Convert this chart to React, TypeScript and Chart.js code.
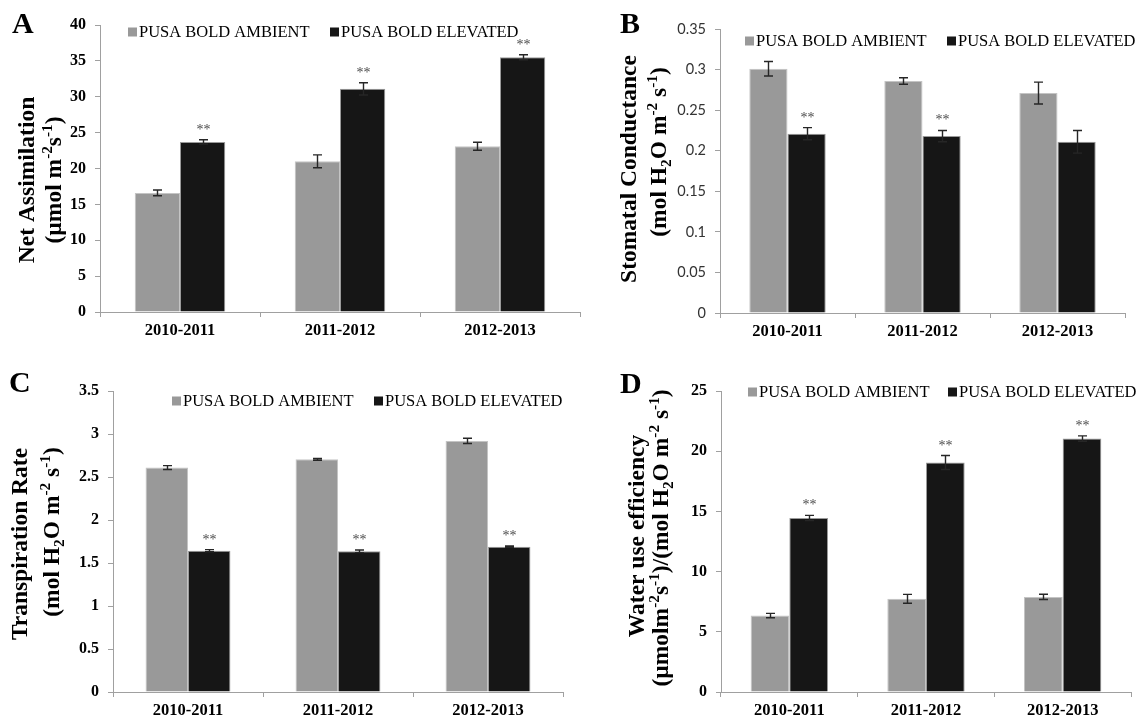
import React, { useEffect, useRef } from "react";
import { Chart, registerables } from "chart.js";

Chart.register(...registerables);

// ---------- data ----------
const categories = ["2010-2011", "2011-2012", "2012-2013"];
const seriesNames = ["PUSA BOLD AMBIENT", "PUSA BOLD ELEVATED"];

// A: Net Assimilation
const netAssimAmbient = [16.6, 21.0, 23.1];
const netAssimAmbientErr = [0.4, 0.9, 0.55];
const netAssimElevated = [23.7, 31.1, 35.5];
const netAssimElevatedErr = [0.3, 0.85, 0.35];
const netAssimSig = ["**", "**", "**"];

// B: Stomatal Conductance
const stomAmbient = [0.301, 0.286, 0.271];
const stomAmbientErr = [0.009, 0.004, 0.0135];
const stomElevated = [0.221, 0.218, 0.211];
const stomElevatedErr = [0.0075, 0.007, 0.014];
const stomSig = ["**", "**", ""];

// C: Transpiration Rate
const transAmbient = [2.61, 2.705, 2.92];
const transAmbientErr = [0.022, 0.01, 0.03];
const transElevated = [1.643, 1.636, 1.69];
const transElevatedErr = [0.012, 0.015, 0.008];
const transSig = ["**", "**", "**"];

// D: Water use efficiency
const wueAmbient = [6.35, 7.74, 7.9];
const wueAmbientErr = [0.18, 0.37, 0.22];
const wueElevated = [14.45, 19.06, 21.05];
const wueElevatedErr = [0.22, 0.58, 0.22];
const wueSig = ["**", "**", "**"];

// axis ranges
const netAssimAxis = { max: 40, step: 5 };
const stomAxis = { max: 0.35, step: 0.05 };
const transAxis = { max: 3.5, step: 0.5 };
const wueAxis = { max: 25, step: 5 };

// titles (^{} = superscript, _{} = subscript)
const netAssimTitle = ["Net Assimilation", "(µmol m^{-2}s^{-1})"];
const stomTitle = ["Stomatal Conductance", "(mol H_{2}O m^{-2} s^{-1})"];
const transTitle = ["Transpiration Rate", "(mol H_{2}O m^{-2} s^{-1})"];
const wueTitle = ["Water use efficiency", "(µmolm^{-2}s^{-1})/(mol H_{2}O m^{-2} s^{-1})"];

// ---------- styles ----------
const SERIF = '"Liberation Serif", "Times New Roman", serif';
const SANS = 'Lato, "Open Sans", "Liberation Sans", sans-serif';
const AMB = "#999999";
const ELE = "#161616";
const AXIS = "#a0a0a0";

type Seg = { t: string; k: number };
function parseRich(s: string): Seg[] {
  const out: Seg[] = [];
  const re = /\^\{([^}]*)\}|_\{([^}]*)\}|([^^_]+)/g;
  let m: RegExpExecArray | null;
  while ((m = re.exec(s))) {
    if (m[1] !== undefined) out.push({ t: m[1], k: 1 });
    else if (m[2] !== undefined) out.push({ t: m[2], k: -1 });
    else out.push({ t: m[3], k: 0 });
  }
  return out;
}

function drawRotatedRich(ctx: CanvasRenderingContext2D, text: string, bx: number, cy: number, size: number) {
  const segs = parseRich(text);
  const fontFor = (k: number) => `bold ${k ? size * 0.65 : size}px ${SERIF}`;
  ctx.save();
  ctx.translate(bx, cy);
  ctx.rotate(-Math.PI / 2);
  ctx.textBaseline = "alphabetic";
  ctx.textAlign = "left";
  ctx.fillStyle = "#000";
  let total = 0;
  const widths = segs.map((s) => {
    ctx.font = fontFor(s.k);
    const w = ctx.measureText(s.t).width;
    total += w;
    return w;
  });
  let x = -total / 2;
  segs.forEach((s, i) => {
    ctx.font = fontFor(s.k);
    const dy = s.k === 1 ? -size * 0.38 : s.k === -1 ? size * 0.2 : 0;
    ctx.fillText(s.t, x, dy);
    x += widths[i];
  });
  ctx.restore();
}

type PanelCfg = {
  letter: string;
  letterX: number;
  letterY: number;
  left: number;
  top: number;
  width: number;
  height: number;
  pad: { left: number; top: number; right: number; bottom: number };
  yWidth: number;
  xHeight: number;
  axis: { max: number; step: number };
  ambient: number[];
  ambientErr: number[];
  elevated: number[];
  elevatedErr: number[];
  sig: string[];
  tickFont: any;
  tickColor: string;
  title: string[];
  titleX: number[];
  titleY: number[];
  legendY: number;
  legendX: number[];
};

const panels: PanelCfg[] = [
  {
    letter: "A", letterX: 12, letterY: 33,
    left: 0, top: 0, width: 600, height: 360,
    pad: { left: 0, top: 25, right: 20, bottom: 0 },
    yWidth: 100, xHeight: 48,
    axis: netAssimAxis,
    ambient: netAssimAmbient, ambientErr: netAssimAmbientErr,
    elevated: netAssimElevated, elevatedErr: netAssimElevatedErr, sig: netAssimSig,
    tickFont: { family: SERIF, size: 16, weight: "bold" }, tickColor: "#000",
    title: netAssimTitle, titleX: [34, 61], titleY: [180, 180],
    legendY: 32, legendX: [128, 330],
  },
  {
    letter: "B", letterX: 620, letterY: 33,
    left: 580, top: 0, width: 568, height: 360,
    pad: { left: 0, top: 29, right: 23, bottom: 0 },
    yWidth: 140, xHeight: 47,
    axis: stomAxis,
    ambient: stomAmbient, ambientErr: stomAmbientErr,
    elevated: stomElevated, elevatedErr: stomElevatedErr, sig: stomSig,
    tickFont: { family: SANS, size: 14.5, weight: "normal" }, tickColor: "#333",
    title: stomTitle, titleX: [636, 666], titleY: [169, 152],
    legendY: 41, legendX: [745, 947],
  },
  {
    letter: "C", letterX: 9, letterY: 392,
    left: 0, top: 360, width: 600, height: 362,
    pad: { left: 0, top: 31, right: 37, bottom: 0 },
    yWidth: 113, xHeight: 30,
    axis: transAxis,
    ambient: transAmbient, ambientErr: transAmbientErr,
    elevated: transElevated, elevatedErr: transElevatedErr, sig: transSig,
    tickFont: { family: SERIF, size: 16, weight: "bold" }, tickColor: "#000",
    title: transTitle, titleX: [27, 59], titleY: [544, 532],
    legendY: 401, legendX: [172, 374],
  },
  {
    letter: "D", letterX: 620, letterY: 393,
    left: 580, top: 360, width: 568, height: 362,
    pad: { left: 0, top: 31, right: 17, bottom: 0 },
    yWidth: 141, xHeight: 30,
    axis: wueAxis,
    ambient: wueAmbient, ambientErr: wueAmbientErr,
    elevated: wueElevated, elevatedErr: wueElevatedErr, sig: wueSig,
    tickFont: { family: SERIF, size: 16, weight: "bold" }, tickColor: "#000",
    title: wueTitle, titleX: [644, 668], titleY: [536, 538],
    legendY: 392, legendX: [748, 948],
  },
];

function Panel({ cfg }: { cfg: PanelCfg }) {
  const ref = useRef<HTMLCanvasElement>(null);
  useEffect(() => {
    const canvas = ref.current!;
    const ox = cfg.left;
    const oy = cfg.top;
    const errs = [cfg.ambientErr, cfg.elevatedErr];
    const decor = {
      id: "decor" + cfg.letter,
      afterDatasetsDraw(chart: any) {
        const ctx: CanvasRenderingContext2D = chart.ctx;
        const ys = chart.scales.y;
        ctx.save();
        // error bars
        chart.data.datasets.forEach((ds: any, di: number) => {
          const meta = chart.getDatasetMeta(di);
          meta.data.forEach((el: any, j: number) => {
            const v = ds.data[j];
            const e = errs[di][j];
            const x = Math.round(el.x) + 0.5;
            const t = ys.getPixelForValue(v + e);
            const b = ys.getPixelForValue(v - e);
            ctx.strokeStyle = "#262626";
            ctx.lineWidth = 1.4;
            ctx.beginPath();
            ctx.moveTo(x, t);
            ctx.lineTo(x, b);
            ctx.moveTo(x - 4.5, t);
            ctx.lineTo(x + 4.5, t);
            ctx.moveTo(x - 4.5, b);
            ctx.lineTo(x + 4.5, b);
            ctx.stroke();
            if (di === 1 && cfg.sig[j]) {
              ctx.fillStyle = "#4a4a4a";
              ctx.font = `14px ${SERIF}`;
              ctx.textAlign = "center";
              ctx.textBaseline = "alphabetic";
              ctx.fillText(cfg.sig[j], x, t - 6);
            }
          });
        });
        // legend
        chart.data.datasets.forEach((ds: any, di: number) => {
          const sx = cfg.legendX[di] - ox;
          const cy = cfg.legendY - oy;
          ctx.fillStyle = ds.backgroundColor;
          ctx.fillRect(sx, cy - 4.5, 9, 9);
          ctx.fillStyle = "#000";
          ctx.font = `16.5px ${SERIF}`;
          ctx.textAlign = "left";
          ctx.textBaseline = "middle";
          ctx.fillText(ds.label, sx + 11, cy + 1);
        });
        // panel letter
        ctx.fillStyle = "#000";
        ctx.font = `bold 30px ${SERIF}`;
        ctx.textAlign = "left";
        ctx.textBaseline = "alphabetic";
        ctx.fillText(cfg.letter, cfg.letterX - ox, cfg.letterY - oy);
        // y titles
        cfg.title.forEach((line, i) => {
          drawRotatedRich(ctx, line, cfg.titleX[i] - ox, cfg.titleY[i] - oy, 23.5);
        });
        ctx.restore();
      },
    };
    const chart = new Chart(canvas, {
      type: "bar",
      data: {
        labels: categories,
        datasets: [
          { label: seriesNames[0], data: cfg.ambient, backgroundColor: AMB, borderColor: "#c4c4c4", borderWidth: 1 },
          { label: seriesNames[1], data: cfg.elevated, backgroundColor: ELE, borderColor: "#9a9a9a", borderWidth: 1 },
        ],
      },
      options: {
        responsive: false,
        animation: false,
        devicePixelRatio: 1,
        layout: { padding: cfg.pad },
        datasets: { bar: { categoryPercentage: 0.566, barPercentage: 1 } } as any,
        plugins: { legend: { display: false }, tooltip: { enabled: false }, title: { display: false } },
        scales: {
          x: {
            grid: { display: true, drawOnChartArea: false, drawTicks: true, tickLength: 5, color: AXIS, offset: true },
            border: { display: true, color: AXIS, width: 1 },
            ticks: { font: { family: SERIF, size: 16.5, weight: "bold" }, color: "#000", padding: 4, maxRotation: 0, autoSkip: false },
            afterFit: (s: any) => { s.height = cfg.xHeight; },
          },
          y: {
            min: 0,
            max: cfg.axis.max,
            grid: { display: true, drawOnChartArea: false, drawTicks: true, tickLength: 5, color: AXIS },
            border: { display: true, color: AXIS, width: 1 },
            ticks: {
              stepSize: cfg.axis.step,
              font: cfg.tickFont,
              color: cfg.tickColor,
              padding: 9,
              callback: (v: any) => String(Math.round(Number(v) * 1000) / 1000),
            },
            afterFit: (s: any) => { s.width = cfg.yWidth; },
          },
        },
      } as any,
      plugins: [decor],
    });
    return () => chart.destroy();
  }, []);
  return (
    <canvas
      ref={ref}
      width={cfg.width}
      height={cfg.height}
      style={{ position: "absolute", left: cfg.left, top: cfg.top, width: cfg.width, height: cfg.height }}
    />
  );
}

export default function App() {
  return (
    <div style={{ position: "absolute", left: 0, top: 0, width: 1148, height: 722, background: "#fff", overflow: "hidden" }}>
      {panels.map((p) => (
        <Panel key={p.letter} cfg={p} />
      ))}
    </div>
  );
}
